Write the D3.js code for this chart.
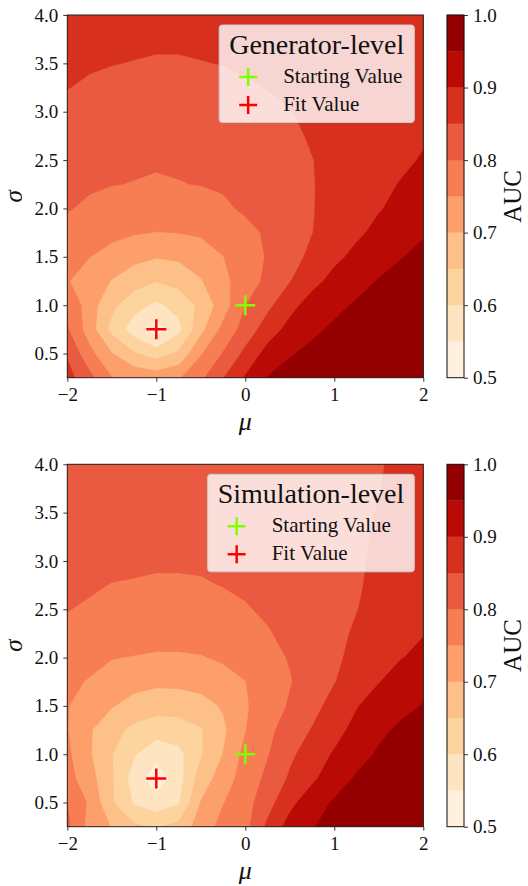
<!DOCTYPE html>
<html><head><meta charset="utf-8">
<script src="https://cdn.jsdelivr.net/npm/d3@7"></script>
<style>
body{margin:0;background:#fff;}
svg{display:block;font-family:"Liberation Serif","Times New Roman",serif;}
</style></head><body>
<svg id="chart" width="528" height="886"></svg>
<script>
// ---- data ----
const mu = [-2,-1.75,-1.5,-1.25,-1,-0.75,-0.5,-0.25,0,0.25,0.5,0.75,1,1.25,1.5,1.75,2];
const sigma = [0.25,0.5,0.75,1,1.25,1.5,1.75,2,2.25,2.5,2.75,3,3.25,3.5,3.75,4];
const levels = [0.5,0.55,0.6,0.65,0.7,0.75,0.8,0.85,0.9,0.95,1.0];
const colorbarTicks = [0.5,0.6,0.7,0.8,0.9,1.0];
const muTicks = [-2,-1,0,1,2];
const sigmaTicks = [0.5,1,1.5,2,2.5,3,3.5,4];
const panelTitles = ["Generator-level","Simulation-level"];
const legendLabels = ["Starting Value","Fit Value"];
const startingValue = [0, 1.0];
const fitValue = [-1, 0.75];

// AUC grid, rows = sigma (ascending), columns = mu
const aucGenerator = [
 [0.868,0.815,0.752,0.738,0.730,0.745,0.790,0.848,0.905,0.952,0.970,0.978,0.983,0.987,0.990,0.992,0.994],
 [0.845,0.765,0.702,0.655,0.625,0.660,0.745,0.803,0.862,0.918,0.946,0.962,0.972,0.978,0.983,0.987,0.990],
 [0.805,0.725,0.635,0.576,0.522,0.585,0.685,0.764,0.820,0.875,0.915,0.940,0.958,0.967,0.975,0.981,0.986],
 [0.797,0.722,0.662,0.617,0.590,0.617,0.662,0.726,0.799,0.838,0.885,0.920,0.938,0.956,0.966,0.975,0.981],
 [0.753,0.726,0.698,0.672,0.652,0.667,0.697,0.736,0.778,0.810,0.848,0.885,0.915,0.932,0.953,0.966,0.974],
 [0.770,0.751,0.733,0.714,0.703,0.708,0.722,0.749,0.781,0.803,0.830,0.862,0.889,0.912,0.930,0.948,0.962],
 [0.785,0.775,0.762,0.754,0.749,0.751,0.757,0.771,0.788,0.806,0.826,0.849,0.872,0.892,0.911,0.930,0.946],
 [0.803,0.792,0.786,0.781,0.779,0.780,0.784,0.793,0.806,0.821,0.834,0.848,0.864,0.880,0.897,0.912,0.925],
 [0.812,0.806,0.801,0.799,0.796,0.799,0.801,0.805,0.812,0.822,0.833,0.848,0.862,0.876,0.891,0.902,0.912],
 [0.818,0.812,0.808,0.805,0.804,0.804,0.805,0.808,0.815,0.824,0.835,0.849,0.862,0.873,0.882,0.893,0.903],
 [0.828,0.823,0.819,0.816,0.815,0.815,0.816,0.819,0.825,0.833,0.842,0.854,0.864,0.873,0.881,0.889,0.896],
 [0.838,0.834,0.830,0.828,0.826,0.826,0.827,0.830,0.835,0.842,0.849,0.858,0.865,0.872,0.878,0.884,0.890],
 [0.851,0.845,0.841,0.838,0.836,0.836,0.837,0.840,0.845,0.851,0.858,0.865,0.870,0.874,0.879,0.883,0.887],
 [0.858,0.854,0.851,0.849,0.847,0.847,0.849,0.851,0.856,0.861,0.866,0.870,0.874,0.877,0.880,0.882,0.884],
 [0.865,0.862,0.858,0.856,0.855,0.855,0.856,0.858,0.862,0.865,0.868,0.871,0.874,0.876,0.878,0.880,0.882],
 [0.870,0.868,0.865,0.863,0.862,0.862,0.863,0.865,0.867,0.869,0.871,0.873,0.875,0.876,0.877,0.879,0.880]
];
const aucSimulation = [
 [0.810,0.732,0.698,0.660,0.645,0.665,0.725,0.765,0.785,0.860,0.920,0.948,0.962,0.972,0.979,0.984,0.988],
 [0.801,0.742,0.655,0.595,0.570,0.595,0.702,0.748,0.780,0.832,0.886,0.930,0.955,0.966,0.974,0.980,0.985],
 [0.768,0.720,0.655,0.578,0.520,0.578,0.675,0.722,0.775,0.810,0.857,0.890,0.930,0.955,0.968,0.974,0.979],
 [0.760,0.705,0.652,0.605,0.565,0.586,0.645,0.701,0.765,0.797,0.840,0.875,0.905,0.935,0.955,0.966,0.972],
 [0.752,0.705,0.667,0.637,0.622,0.626,0.646,0.690,0.748,0.788,0.822,0.853,0.883,0.915,0.942,0.957,0.962],
 [0.752,0.728,0.703,0.683,0.669,0.670,0.682,0.705,0.745,0.775,0.805,0.832,0.870,0.897,0.925,0.940,0.952],
 [0.765,0.745,0.728,0.716,0.711,0.712,0.718,0.730,0.749,0.772,0.797,0.822,0.848,0.875,0.898,0.925,0.943],
 [0.781,0.770,0.752,0.748,0.744,0.744,0.747,0.757,0.771,0.786,0.803,0.816,0.842,0.862,0.878,0.898,0.912],
 [0.792,0.785,0.778,0.772,0.769,0.769,0.771,0.776,0.785,0.797,0.810,0.823,0.840,0.855,0.868,0.882,0.898],
 [0.801,0.796,0.791,0.787,0.784,0.784,0.786,0.790,0.797,0.806,0.816,0.827,0.838,0.849,0.862,0.874,0.885],
 [0.807,0.804,0.799,0.798,0.796,0.796,0.797,0.801,0.806,0.813,0.821,0.829,0.838,0.847,0.857,0.867,0.877],
 [0.814,0.811,0.808,0.805,0.804,0.804,0.805,0.808,0.812,0.818,0.825,0.832,0.839,0.846,0.855,0.864,0.873],
 [0.820,0.817,0.814,0.811,0.810,0.810,0.811,0.814,0.817,0.822,0.828,0.834,0.840,0.846,0.853,0.861,0.870],
 [0.825,0.822,0.819,0.817,0.816,0.816,0.817,0.819,0.822,0.826,0.831,0.836,0.841,0.846,0.851,0.859,0.868],
 [0.829,0.827,0.824,0.822,0.821,0.821,0.822,0.824,0.827,0.830,0.834,0.838,0.842,0.846,0.849,0.857,0.866],
 [0.832,0.830,0.828,0.826,0.825,0.825,0.826,0.828,0.830,0.833,0.836,0.839,0.842,0.845,0.848,0.856,0.864]
];

// ---- layout ----
const svg = d3.select("#chart");
const plotLeft = 67.3, plotRight = 423.3;
const panels = [
  {top: 15, bottom: 377.7, data: aucGenerator, title: panelTitles[0]},
  {top: 464.3, bottom: 826.7, data: aucSimulation, title: panelTitles[1]}
];
const cbLeft = 447, cbRight = 464;

const cmap = d3.piecewise(d3.interpolateRgb, d3.schemeOrRd[9]);
const bandColor = i => cmap((i + 0.5) / (levels.length - 1));
const fmtMinus = d => d3.format(".0f")(d).replace("-", "\u2212");

const nx = mu.length, ny = sigma.length;
const gx = d3.scaleLinear().domain([0.5, nx - 0.5]).range([mu[0], mu[nx - 1]]);
const gy = d3.scaleLinear().domain([0.5, ny - 0.5]).range([sigma[0], sigma[ny - 1]]);

panels.forEach((p, pi) => {
  const x = d3.scaleLinear().domain([mu[0], mu[nx - 1]]).range([plotLeft, plotRight]);
  const y = d3.scaleLinear().domain([sigma[0], sigma[ny - 1]]).range([p.bottom, p.top]);
  const g = svg.append("g");

  const clipId = "clip" + pi;
  svg.append("clipPath").attr("id", clipId).append("rect")
    .attr("x", plotLeft).attr("y", p.top).attr("width", plotRight - plotLeft).attr("height", p.bottom - p.top);

  const flat = p.data.flat();
  const contours = d3.contours().size([nx, ny]).thresholds(levels.slice(0, -1))(flat);
  const proj = d3.geoTransform({point(px, py) { this.stream.point(x(gx(px)), y(gy(py))); }});
  const path = d3.geoPath(proj);

  g.append("g").attr("clip-path", `url(#${clipId})`)
    .selectAll("path").data(contours).join("path")
    .attr("d", path)
    .attr("fill", (d, i) => bandColor(i))
    .attr("stroke", (d, i) => bandColor(i))
    .attr("stroke-width", 0.3);

  // frame
  g.append("rect").attr("x", plotLeft).attr("y", p.top)
    .attr("width", plotRight - plotLeft).attr("height", p.bottom - p.top)
    .attr("fill", "none").attr("stroke", "#222").attr("stroke-width", 1);

  // axes
  const xa = g.append("g").attr("transform", `translate(0,${p.bottom})`)
    .call(d3.axisBottom(x).tickValues(muTicks).tickFormat(fmtMinus).tickSize(4).tickPadding(6));
  const ya = g.append("g").attr("transform", `translate(${plotLeft},0)`)
    .call(d3.axisLeft(y).tickValues(sigmaTicks).tickFormat(d3.format(".1f")).tickSize(4).tickPadding(5));
  [xa, ya].forEach(a => {
    a.select(".domain").remove();
    a.selectAll("line").attr("stroke", "#222").attr("stroke-width", 0.9);
    a.selectAll("text").attr("font-family", "Liberation Serif, serif").attr("font-size", 19).attr("fill", "#111");
  });

  // axis labels
  g.append("text").attr("x", (plotLeft + plotRight) / 2).attr("y", p.bottom + 52)
    .attr("text-anchor", "middle").attr("font-size", 26).attr("font-style", "italic").attr("fill", "#111").text("\u03bc");
  g.append("text").attr("transform", `translate(22,${(p.top + p.bottom) / 2}) rotate(-90)`)
    .attr("text-anchor", "middle").attr("font-size", 25).attr("font-style", "italic").attr("fill", "#111").text("\u03c3");

  // colorbar
  const cy = d3.scaleLinear().domain([levels[0], levels[levels.length - 1]]).range([p.bottom, p.top]);
  const cb = g.append("g");
  cb.selectAll("rect").data(levels.slice(0, -1)).join("rect")
    .attr("x", cbLeft).attr("width", cbRight - cbLeft)
    .attr("y", (d, i) => cy(levels[i + 1])).attr("height", (d, i) => cy(levels[i]) - cy(levels[i + 1]))
    .attr("fill", (d, i) => bandColor(i)).attr("stroke", (d, i) => bandColor(i)).attr("stroke-width", 0.3);
  cb.append("rect").attr("x", cbLeft).attr("y", p.top).attr("width", cbRight - cbLeft)
    .attr("height", p.bottom - p.top).attr("fill", "none").attr("stroke", "#111").attr("stroke-width", 1);
  const ca = g.append("g").attr("transform", `translate(${cbRight},0)`)
    .call(d3.axisRight(cy).tickValues(colorbarTicks).tickFormat(d3.format(".1f")).tickSize(4).tickPadding(5));
  ca.select(".domain").remove();
  ca.selectAll("line").attr("stroke", "#222").attr("stroke-width", 0.9);
  ca.selectAll("text").attr("font-family", "Liberation Serif, serif").attr("font-size", 19).attr("fill", "#111");
  g.append("text").attr("transform", `translate(521,${(p.top + p.bottom) / 2}) rotate(-90)`)
    .attr("text-anchor", "middle").attr("font-size", 25).attr("fill", "#111").text("AUC");

  // legend
  const lg = g.append("g");
  const title = lg.append("text").attr("font-size", 28).attr("fill", "#111").attr("text-anchor", "middle").text(p.title);
  const tw = title.node().getComputedTextLength();
  const boxW = tw + 20, boxH = 97.5;
  const boxX = plotRight - 9 - boxW, boxY = p.top + 10;
  lg.insert("rect", "text").attr("x", boxX).attr("y", boxY).attr("width", boxW).attr("height", boxH)
    .attr("rx", 3).attr("fill", "#fff").attr("fill-opacity", 0.8)
    .attr("stroke", "#ccc").attr("stroke-width", 1);
  title.attr("x", boxX + boxW / 2).attr("y", boxY + 29);
  const markerColors = ["#7fff00", "#ff0000"];
  legendLabels.forEach((lab, k) => {
    const ry = boxY + 58 + k * 28;
    lg.append("path").attr("d", "M-9,0H9M0,-9V9")
      .attr("transform", `translate(${boxX + 29},${ry - 6})`)
      .attr("stroke", markerColors[k]).attr("stroke-width", 2.5).attr("fill", "none");
    lg.append("text").attr("x", boxX + 64).attr("y", ry).attr("font-size", 21).attr("fill", "#111").text(lab);
  });

  // markers on plot
  [[startingValue, "#7fff00"], [fitValue, "#ff0000"]].forEach(([v, c]) => {
    g.append("path").attr("d", "M-10,0H10M0,-10V10")
      .attr("transform", `translate(${x(v[0])},${y(v[1])})`)
      .attr("stroke", c).attr("stroke-width", 2.5).attr("fill", "none");
  });
});
</script>
</body></html>
